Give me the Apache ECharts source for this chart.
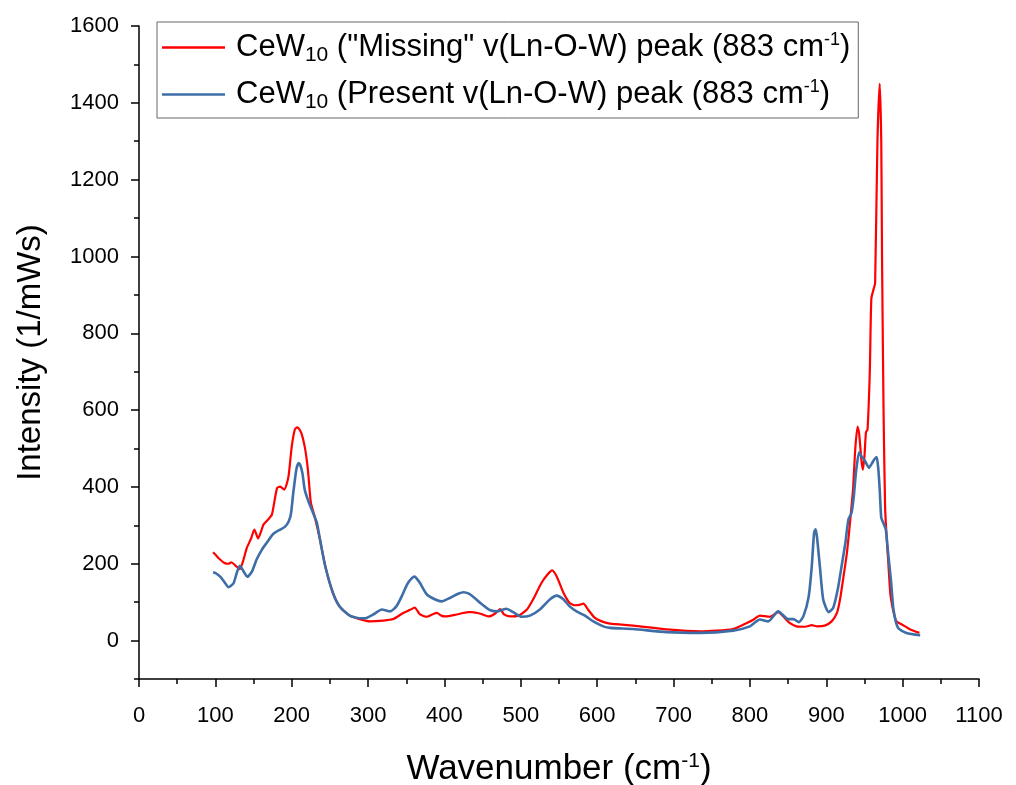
<!DOCTYPE html>
<html>
<head>
<meta charset="utf-8">
<script src="https://cdn.jsdelivr.net/npm/echarts@6/dist/echarts.min.js"></script>
<style>html,body{margin:0;padding:0;background:#fff}#c{width:1016px;height:785px}</style>
</head>
<body>
<div id="c"></div>
<script>
// ---- Data ----
const redName = 'CeW10 ("Missing" v(Ln-O-W) peak (883 cm-1)';
const blueName = 'CeW10 (Present v(Ln-O-W) peak (883 cm-1)';

const redWn = [97,100,104,112,117,121,126,132,136,141,147,151,156,160,163,169,174,178,181,185,190,193,196,200,204,207,210,213,217,220,222,225,230,237,244,254,263,276,289,302,320,333,346,355,361,368,377,384,390,396,401,416,431,436,447,458,466,473,478,486,497,508,516,527,535,541,547,556,564,571,577,582,588,597,606,617,647,691,735,778,796,805,813,826,837,845,852,861,872,881,888,898,907,914,918,922,927,931,935,938,941,943,946,948,950,952,954,957,959,962,964,967,970,972,973,975,977,979,981,984,988,992,999,1010,1022];
const redVal = [230,224,215,202,200,204,196,186,205,240,267,289,266,285,302,315,328,370,398,401,393,405,430,505,549,555,550,538,505,465,427,360,323,263,193,124,88,65,56,50,52,56,72,80,86,68,62,68,72,65,63,68,74,74,70,63,70,82,68,63,65,81,107,150,172,183,167,124,98,92,93,96,81,59,50,44,39,29,24,30,46,55,65,62,74,60,46,37,36,40,37,39,50,72,107,159,228,306,393,500,557,540,470,445,480,543,549,700,890,915,931,1300,1450,1300,1000,600,350,270,210,120,75,50,42,29,20];

const blueWn = [97,100,106,112,117,120,124,128,132,137,142,148,154,161,167,176,185,191,196,199,202,206,209,211,214,217,222,228,233,237,244,254,263,276,289,298,307,318,329,337,344,351,357,361,365,368,377,388,396,407,418,425,432,440,447,460,470,476,481,490,501,512,525,538,547,556,564,573,584,595,608,617,647,691,735,778,800,813,824,837,850,857,864,870,877,881,884,886,888,892,896,903,909,915,920,925,929,933,936,939,943,946,950,956,960,963,966,968,970,972,975,978,981,985,988,994,1005,1023];
const blueVal = [178,176,167,152,139,142,150,176,195,180,166,180,211,237,254,278,289,296,310,330,384,445,462,458,436,393,362,332,306,263,193,124,88,65,58,59,68,81,76,89,115,146,162,167,158,150,120,107,102,111,122,126,122,110,98,79,76,80,83,74,62,65,81,107,117,107,89,76,65,50,37,33,30,22,20,26,37,55,50,76,56,56,48,63,115,193,280,290,267,185,107,74,85,133,193,254,315,332,375,440,490,480,470,450,462,472,478,450,393,320,305,289,228,150,81,33,20,14];

const xTicks = [0,100,200,300,400,500,600,700,800,900,1000,1100];
const yMajor = [0,200,400,600,800,1000,1200,1400,1600];
const yMinor = [-100,100,300,500,700,900,1100,1300,1500];

const zip = (a,b) => a.map((v,i)=>[v,b[i]]);

const FONT = 'Liberation Sans';
const chart = echarts.init(document.getElementById('c'), null, {renderer:'canvas'});

const legendRich = {
  n:{fontFamily:FONT,fontSize:31,color:'#000',lineHeight:37,verticalAlign:'middle'},
  sub:{fontFamily:FONT,fontSize:21,color:'#000',lineHeight:21,padding:[16,0,0,0],verticalAlign:'middle'},
  sup:{fontFamily:FONT,fontSize:18,color:'#000',lineHeight:18,padding:[0,0,15,0],verticalAlign:'middle'}
};

chart.setOption({
  animation:false,
  backgroundColor:'#fff',
  grid:{left:139,right:37,top:26,bottom:106,containLabel:false,outerBoundsMode:'none'},
  legend:{
    orient:'vertical',
    left:157, top:22,
    padding:[7,8,5,5],
    itemGap:10,
    itemWidth:63, itemHeight:2.5,
    icon:'rect',
    borderColor:'#666', borderWidth:1,
    data:[redName, blueName],
    formatter: function(name){
      if(name===redName) return '{n|CeW}{sub|10}{n| ("Missing" v(Ln-O-W) peak (883 cm}{sup|-1}{n|)}';
      return '{n|CeW}{sub|10}{n| (Present v(Ln-O-W) peak (883 cm}{sup|-1}{n|)}';
    },
    textStyle:{fontFamily:FONT,fontSize:31,color:'#000',padding:[0,0,0,6],rich:legendRich}
  },
  xAxis:{
    type:'value', min:0, max:1100, interval:100,
    name:'{n|Wavenumber (cm}{sup|-1}{n|)}',
    nameLocation:'middle', nameGap:70,
    nameTextStyle:{rich:{
      n:{fontFamily:FONT,fontSize:35,color:'#000',lineHeight:40,verticalAlign:'middle'},
      sup:{fontFamily:FONT,fontSize:21,color:'#000',padding:[0,0,16,0],verticalAlign:'middle'}
    }},
    axisLine:{show:true,onZero:false,lineStyle:{color:'#000',width:1.5}},
    axisTick:{show:true,inside:false,length:8,lineStyle:{color:'#000',width:1.5}},
    minorTick:{show:true,splitNumber:2,length:5,lineStyle:{color:'#000',width:1.5}},
    axisLabel:{fontFamily:FONT,fontSize:22,color:'#000',margin:26,customValues:xTicks,
      formatter:v=>String(v)},
    splitLine:{show:false}
  },
  yAxis:[{
    type:'value', min:-100, max:1600,
    name:'Intensity (1/mWs)',
    nameLocation:'middle', nameGap:92,
    nameTextStyle:{fontFamily:FONT,fontSize:33,color:'#000'},
    axisLine:{show:true,onZero:false,lineStyle:{color:'#000',width:1.5}},
    axisTick:{show:true,inside:false,length:8,customValues:yMajor,lineStyle:{color:'#000',width:1.5}},
    axisLabel:{fontFamily:FONT,fontSize:22,color:'#000',margin:20,customValues:yMajor,
      formatter:v=>String(v)},
    splitLine:{show:false}
  },{
    type:'value', min:-100, max:1600, position:'left',
    axisLine:{show:false},
    axisTick:{show:true,inside:false,length:5,customValues:yMinor,lineStyle:{color:'#000',width:1.5}},
    axisLabel:{show:false},
    splitLine:{show:false}
  }],
  series:[
    {name:redName,type:'line',data:zip(redWn,redVal),showSymbol:false,symbol:'none',
     smooth:0.2,color:'#ff0000',lineStyle:{color:'#ff0000',width:2.2},z:2},
    {name:blueName,type:'line',data:zip(blueWn,blueVal),showSymbol:false,symbol:'none',
     smooth:0.2,color:'#3d6ea7',lineStyle:{color:'#3d6ea7',width:2.6},z:3}
  ]
});
</script>
</body>
</html>
